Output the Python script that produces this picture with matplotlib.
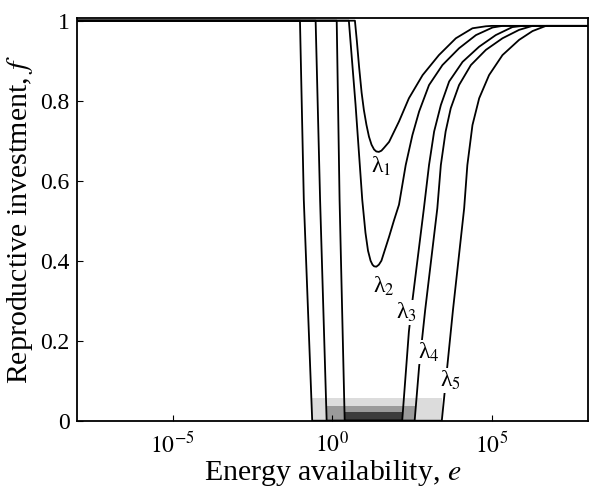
import numpy as np
import matplotlib.pyplot as plt

plt.rcParams['font.family'] = ['Liberation Serif', 'DejaVu Serif']
plt.rcParams['mathtext.fontset'] = 'stix'

# curves: log10(e) and reproductive investment f
lam1_loge = [-8, 0.71, 0.77, 0.84, 0.92, 0.99, 1.07, 1.15, 1.23, 1.31, 1.38, 1.46, 1.54, 1.62, 1.78,
             2.09, 2.40, 2.83, 3.34, 3.87, 4.39, 4.81, 5.0, 8]
lam1_f = [1.0, 1.0, 0.95, 0.885, 0.82, 0.777, 0.74, 0.71, 0.69, 0.678, 0.673, 0.672, 0.675, 0.682, 0.697,
          0.748, 0.806, 0.864, 0.914, 0.956, 0.981, 0.986, 0.987, 0.987]

lam2_loge = [-8, 0.52, 0.73, 0.94, 1.04, 1.12, 1.20, 1.26, 1.31, 1.38, 1.46, 1.54, 1.62, 1.78, 1.93,
             2.09, 2.30, 2.51, 2.72, 3.03, 3.45, 3.97, 4.50, 5.02, 5.33, 8]
lam2_f = [1.0, 1.0, 0.79, 0.552, 0.47, 0.425, 0.40, 0.39, 0.386, 0.385, 0.39, 0.40, 0.42, 0.46, 0.50,
          0.54, 0.639, 0.714, 0.773, 0.839, 0.889, 0.931, 0.964, 0.983, 0.987, 0.987]

lam3_loge = [-8, 0.14, 0.23, 0.39, 2.19, 2.40, 2.51, 2.87, 3.03, 3.19, 3.40, 3.66, 4.08, 4.60, 5.12,
             5.64, 5.96, 8]
lam3_f = [1.0, 1.0, 0.552, 0.0, 0.0, 0.223, 0.30, 0.531, 0.639, 0.723, 0.789, 0.848, 0.897, 0.935, 0.964,
          0.984, 0.987, 0.987]

lam4_loge = [-8, -0.52, -0.38, -0.175, 2.58, 2.72, 2.91, 3.29, 3.40, 3.55, 3.71, 3.97, 4.34, 4.81, 5.33,
             5.85, 6.27, 8]
lam4_f = [1.0, 1.0, 0.552, 0.0, 0.0, 0.135, 0.277, 0.531, 0.639, 0.723, 0.781, 0.839, 0.889, 0.927, 0.956,
          0.977, 0.987, 0.987]

lam5_loge = [-8, -1.01, -0.89, -0.627, 3.43, 3.78, 4.13, 4.23, 4.39, 4.60, 4.91, 5.33, 5.85, 6.27, 6.69, 8]
lam5_f = [1.0, 1.0, 0.552, 0.0, 0.0, 0.277, 0.531, 0.639, 0.739, 0.806, 0.864, 0.914, 0.952, 0.974, 0.987,
          0.987]

# shaded zero-investment bands (log10 e start, end, height)
band_loge = [(-0.627, 3.45), (-0.175, 2.58), (0.39, 2.19)]
band_top = [0.0575, 0.0375, 0.021]
band_colors = ['#dcdcdc', '#9a9a9a', '#3c3c3c']

labels = ['1', '2', '3', '4', '5']
label_loge = [1.52, 1.62, 2.34, 3.03, 3.71]
label_f = [0.635, 0.335, 0.27, 0.172, 0.10]

fig = plt.figure(figsize=(6.01, 4.98), dpi=100)
ax = fig.add_axes([0.1276, 0.1552, 0.8504, 0.8081])
ax.set_xscale('log')

for (a, b), top, c in zip(band_loge, band_top, band_colors):
    ax.fill_between([10 ** a, 10 ** b], 0, top, color=c, lw=0, zorder=1)

curves = [(lam1_loge, lam1_f), (lam2_loge, lam2_f), (lam3_loge, lam3_f),
          (lam4_loge, lam4_f), (lam5_loge, lam5_f)]
for le, f in curves:
    ax.plot(10 ** np.array(le), f, color='black', lw=1.3, zorder=2, solid_joinstyle='round')

for i, (lab, le, f) in enumerate(zip(labels, label_loge, label_f)):
    bbox = dict(facecolor='white', edgecolor='none', pad=0.5) if i >= 2 else None
    ax.text(10 ** le, f, 'λ$_{\\mathrm{%s}}$' % lab, fontsize=17, ha='center', va='center',
            bbox=bbox, zorder=3)

ax.set_xlim(1e-8, 1e8)
ax.set_ylim(0, 1.006)
ax.set_xticks([1e-5, 1e0, 1e5])
ax.set_xticklabels(['$10^{-5}$', '$10^{0}$', '$10^{5}$'])
ax.minorticks_off()
ax.set_yticks([0, 0.2, 0.4, 0.6, 0.8, 1])
ax.set_yticklabels(['0', '0.2', '0.4', '0.6', '0.8', '1'])
ax.tick_params(direction='in', length=4, labelsize=17, pad=5)
ax.tick_params(axis='x', pad=8)
for s in ax.spines.values():
    s.set_linewidth(1.3)

ax.set_xlabel('Energy availability, $e$', fontsize=21.5, labelpad=0)
ax.set_ylabel('Reproductive investment, $f$', fontsize=21.5, labelpad=4)

fig.savefig('out.png', dpi=100)
